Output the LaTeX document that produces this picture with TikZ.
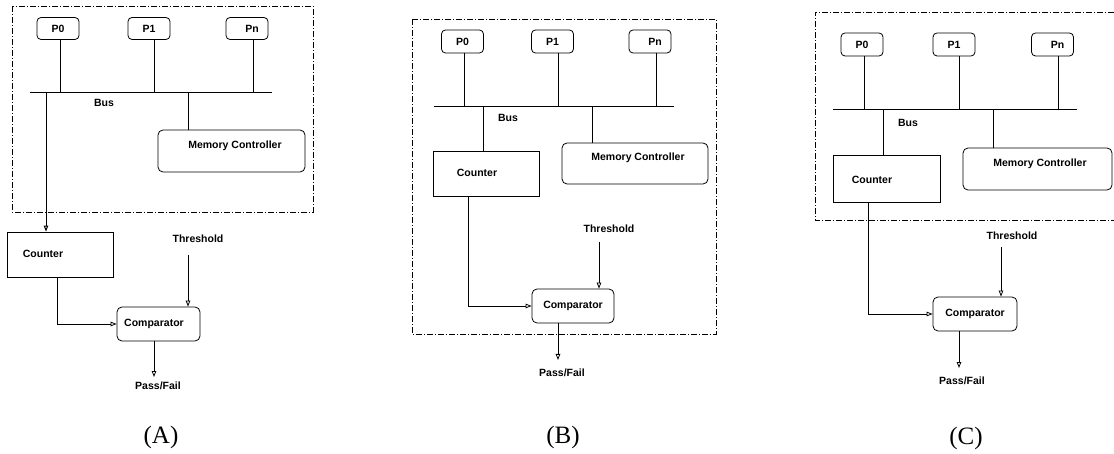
\documentclass[tikz,border=0pt]{standalone}
\usepackage{fontspec}
\setmainfont{Liberation Sans}
\newfontfamily\capfont{Liberation Serif}
\usetikzlibrary{arrows.meta}
\tikzset{
  frame/.style={draw, line width=0.7pt, dash pattern=on 6pt off 2pt on 1pt off 2pt},
  pbox/.style={draw, rounded corners=4pt, line width=0.8pt, inner sep=0pt, minimum width=42pt, minimum height=22pt, lbl},
  rbox/.style={draw, rounded corners=5pt, line width=0.8pt, inner sep=0pt},
  sqbox/.style={draw, line width=0.8pt, inner sep=0pt},
  lbl/.style={font=\bfseries\fontsize{10.5}{12}\selectfont, inner sep=0pt},
  wire/.style={line width=0.8pt},
  arr/.style={line width=0.8pt, -{Triangle[open,length=6pt,width=4.5pt]}},
  captxt/.style={font=\capfont\fontsize{25}{28}\selectfont, inner sep=0pt}
}
\begin{document}
\begin{tikzpicture}[x=1pt,y=-1pt]
\useasboundingbox (0,0) rectangle (1114,454);

% ---------------- Panel A ----------------
\draw[frame] (12,6) rectangle (313,212);
\node[pbox] (p0A) at (58,28.5) {P0};
\node[pbox] (p1A) at (149,28.5) {P1};
\node[pbox] (pnA) at (247,28.5) {\hspace*{10pt}Pn};
\coordinate (busAL) at (30,92);
\coordinate (busAR) at (272,92);
\draw[wire] (busAL) -- (busAR);
\draw[wire] ([xshift=2pt]p0A.south) -- ([xshift=2pt]p0A.south |- busAL);
\draw[wire] ([xshift=5pt]p1A.south) -- ([xshift=5pt]p1A.south |- busAL);
\draw[wire] ([xshift=6pt]pnA.south) -- ([xshift=6pt]pnA.south |- busAL);
\node[lbl] (busTA) at (104,103) {Bus};
\node[rbox, minimum width=147pt, minimum height=42pt] (mcA) at (231.5,151) {};
\node[lbl] (mcTA) at (235,146) {Memory Controller};
\draw[wire] ([xshift=-43.5pt]mcA.north) -- ([xshift=-43.5pt]mcA.north |- busAL);
\node[sqbox, minimum width=106pt, minimum height=45pt] (cntA) at (60,254.5) {};
\node[lbl] (cntTA) at (43,254) {Counter};
\draw[arr, line width=1pt] ([xshift=-14pt]cntA.north |- busAL) -- ([xshift=-14pt]cntA.north);
\node[rbox, lbl, minimum width=83pt, minimum height=34pt] (cmpA) at (158.5,324) {Comparator\hspace*{9pt}};
\draw[arr] ([xshift=-3pt]cntA.south) |- (cmpA.west);
\node[lbl] (thA) at (198,239) {Threshold};
\coordinate (thsA) at (188,255);
\draw[arr] (thsA) -- (thsA |- cmpA.north);
\node[lbl] (pfA) at (158,386) {Pass/Fail};
\coordinate (outA) at (154,377);
\draw[arr] (outA |- cmpA.south) -- (outA);
\node[captxt] (capA) at (161,437) {(A)};

% ---------------- Panel B ----------------
\draw[frame] (412,19) rectangle (716,334);
\node[pbox, minimum height=23pt] (p0B) at (462.5,41.5) {P0};
\node[pbox, minimum height=23pt] (p1B) at (552.5,41.5) {P1};
\node[pbox, minimum height=23pt] (pnB) at (650,41.5) {\hspace*{10pt}Pn};
\coordinate (busBL) at (434,106);
\coordinate (busBR) at (674,106);
\draw[wire] (busBL) -- (busBR);
\draw[wire] ([xshift=1.5pt]p0B.south) -- ([xshift=1.5pt]p0B.south |- busBL);
\draw[wire] ([xshift=5.5pt]p1B.south) -- ([xshift=5.5pt]p1B.south |- busBL);
\draw[wire] ([xshift=6pt]pnB.south) -- ([xshift=6pt]pnB.south |- busBL);
\node[lbl] (busTB) at (508,118) {Bus};
\node[sqbox, minimum width=106pt, minimum height=45pt] (cntB) at (486,173.5) {};
\node[lbl] (cntTB) at (477,173) {Counter};
\draw[wire] ([xshift=-3pt]cntB.north) -- ([xshift=-3pt]cntB.north |- busBL);
\node[rbox, minimum width=146pt, minimum height=41pt] (mcB) at (635,163.5) {};
\node[lbl] (mcTB) at (638,158) {Memory Controller};
\draw[wire] ([xshift=-43pt]mcB.north) -- ([xshift=-43pt]mcB.north |- busBL);
\node[rbox, lbl, minimum width=82pt, minimum height=34pt] (cmpB) at (573,306) {Comparator};
\draw[arr] ([xshift=-18pt]cntB.south) |- (cmpB.west);
\node[lbl] (thB) at (609,229) {Threshold};
\coordinate (thsB) at (599,242);
\draw[arr] (thsB) -- (thsB |- cmpB.north);
\node[lbl] (pfB) at (562,373) {Pass/Fail};
\coordinate (outB) at (558,360);
\draw[arr] (outB |- cmpB.south) -- (outB);
\node[captxt] (capB) at (563,437) {(B)};

% ---------------- Panel C ----------------
\draw[frame] (1114,12) -- (815,12) -- (815,220) -- (1114,220);
\node[pbox, minimum height=23pt] (p0C) at (862,44.5) {P0};
\node[pbox, minimum height=23pt] (p1C) at (954,44.5) {P1};
\node[pbox, minimum height=23pt] (pnC) at (1052.5,44.5) {\hspace*{10pt}Pn};
\coordinate (busCL) at (833,109);
\coordinate (busCR) at (1077,109);
\draw[wire] (busCL) -- (busCR);
\draw[wire] ([xshift=2pt]p0C.south) -- ([xshift=2pt]p0C.south |- busCL);
\draw[wire] ([xshift=5pt]p1C.south) -- ([xshift=5pt]p1C.south |- busCL);
\draw[wire] ([xshift=5.5pt]pnC.south) -- ([xshift=5.5pt]pnC.south |- busCL);
\node[lbl] (busTC) at (908,123) {Bus};
\node[sqbox, minimum width=107pt, minimum height=47pt] (cntC) at (886.5,178.5) {};
\node[lbl] (cntTC) at (872,180) {Counter};
\draw[wire] ([xshift=-3.5pt]cntC.north) -- ([xshift=-3.5pt]cntC.north |- busCL);
\node[rbox, minimum width=149pt, minimum height=42pt] (mcC) at (1037.5,169) {};
\node[lbl] (mcTC) at (1040,164) {Memory Controller};
\draw[wire] ([xshift=-44.5pt]mcC.north) -- ([xshift=-44.5pt]mcC.north |- busCL);
\node[rbox, lbl, minimum width=84pt, minimum height=34pt] (cmpC) at (975,314) {Comparator};
\draw[arr] ([xshift=-18.5pt]cntC.south) |- (cmpC.west);
\node[lbl] (thC) at (1012,236) {Threshold};
\coordinate (thsC) at (1001,247);
\draw[arr] (thsC) -- (thsC |- cmpC.north);
\node[lbl] (pfC) at (962,381) {Pass/Fail};
\coordinate (outC) at (959,368);
\draw[arr] (outC |- cmpC.south) -- (outC);
\node[captxt] (capC) at (966,438) {(C)};
\end{tikzpicture}
\end{document}
